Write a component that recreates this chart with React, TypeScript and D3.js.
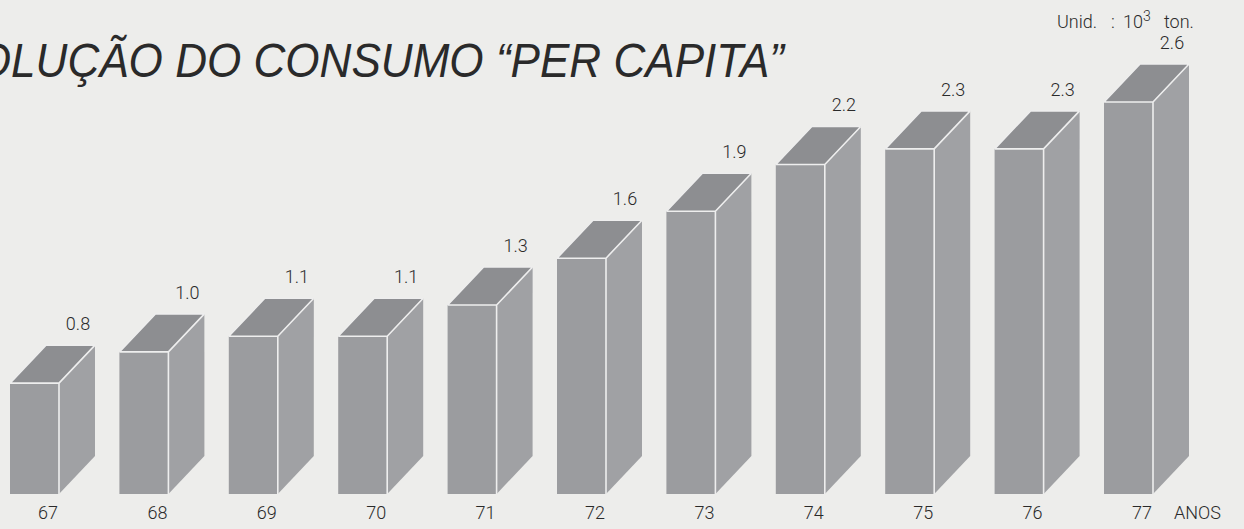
import { useEffect } from 'react'
import * as d3 from 'd3'

// values (10^3 ton)
const years = ['67', '68', '69', '70', '71', '72', '73', '74', '75', '76', '77']
const values = [0.8, 1.0, 1.1, 1.1, 1.3, 1.6, 1.9, 2.2, 2.3, 2.3, 2.6]
const valueLabels = ['0.8', '1.0', '1.1', '1.1', '1.3', '1.6', '1.9', '2.2', '2.3', '2.3', '2.6']

const W = 1244
const H = 529
const BASE = 494
const BAR_W = 49
const DX = 36
const DY = -38

const FRONT = '#9b9c9f'
const TOP = '#8d8e91'
const SIDE = '#a0a1a4'
const EDGE = '#eeeeee'
const BG = '#ededeb'
const INK = '#2a2a2a'
const numFont = 'Roboto, "Liberation Sans", sans-serif'

export default function App() {
  useEffect(() => {
    document.body.style.margin = '0'
    document.body.style.background = BG
  }, [])

  const x = d3.scalePoint<string>().domain(years).range([10, 1104])
  // the drawing is not zero based: bars start a little above 0
  const h = d3.scaleLinear().domain([0.09, 2.6]).range([0, 392])

  return (
    <svg width={W} height={H} viewBox={`0 0 ${W} ${H}`} style={{ display: 'block', background: BG }}>
      {/* title runs off the left edge in the scan */}
      <text
        x={-82}
        y={77}
        textLength={866}
        lengthAdjust="spacingAndGlyphs"
        fontFamily='"Liberation Sans", sans-serif'
        fontStyle="italic"
        fontSize={49}
        fill={INK}
      >
        EVOLUÇÃO DO CONSUMO “PER CAPITA”
      </text>

      <text y={28} fontFamily={numFont} fontWeight={300} fontSize={18} fill={INK}>
        <tspan x={1057}>Unid.</tspan>
        <tspan x={1111}>:</tspan>
        <tspan x={1123}>10</tspan>
        <tspan dy={-7} fontSize={14}>3</tspan>
        <tspan x={1164} dy={7}>ton.</tspan>
      </text>

      {years.map((yr, i) => {
        const x0 = x(yr) as number
        const x1 = x0 + BAR_W
        const top = BASE - h(values[i])
        const front = `M${x0},${BASE}L${x0},${top}L${x1},${top}L${x1},${BASE}Z`
        const roof = `M${x0},${top}L${x0 + DX},${top + DY}L${x1 + DX},${top + DY}L${x1},${top}Z`
        const side = `M${x1},${BASE}L${x1},${top}L${x1 + DX},${top + DY}L${x1 + DX},${BASE + DY}Z`
        return (
          <g key={yr}>
            <path d={side} fill={SIDE} />
            <path d={roof} fill={TOP} />
            <path d={front} fill={FRONT} />
            <path
              d={`M${x0},${top}L${x1},${top}L${x1},${BASE}M${x1},${top}L${x1 + DX},${top + DY}M${x0},${top}L${x0 + DX},${top + DY}L${x1 + DX},${top + DY}`}
              fill="none"
              stroke={EDGE}
              strokeWidth={1.6}
            />
            <text
              x={x0 + 68}
              y={top + DY - 15}
              textAnchor="middle"
              fontFamily={numFont}
              fontWeight={300}
              fontSize={18}
              fill={INK}
            >
              {valueLabels[i]}
            </text>
            <text
              x={x0 + 38}
              y={519}
              textAnchor="middle"
              fontFamily={numFont}
              fontWeight={300}
              fontSize={18}
              fill={INK}
            >
              {yr}
            </text>
          </g>
        )
      })}

      <text x={1174} y={519} fontFamily={numFont} fontWeight={300} fontSize={18} fill={INK}>
        ANOS
      </text>
    </svg>
  )
}
